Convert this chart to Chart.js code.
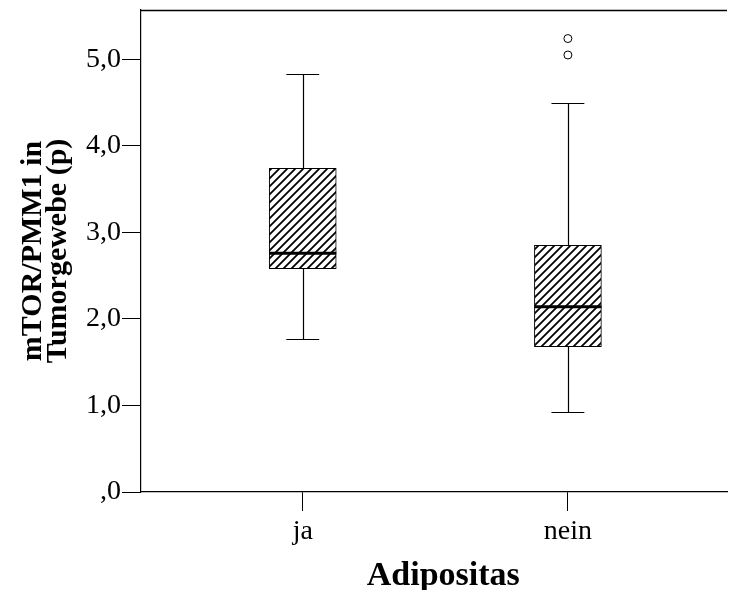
<!DOCTYPE html>
<html><head><meta charset="utf-8">
<script src="https://cdn.jsdelivr.net/npm/chart.js@4/dist/chart.umd.min.js"></script>
<style>html,body{margin:0;padding:0;background:#fff;overflow:hidden}#wrap{width:732px;height:590px}</style>
</head><body><div id="wrap"><canvas id="c" width="732" height="590"></canvas></div>
<script>
// ---- data ----
const categories = ['ja', 'nein'];
const whiskerLow = [1.77, 0.93];
const q1 = [2.58, 1.68];
const median = [2.76, 2.14];
const q3 = [3.74, 2.85];
const whiskerHigh = [4.83, 4.49];
const outlierCategory = ['nein', 'nein'];
const outlierValues = [5.05, 5.24];
const yTickValues = [0, 1, 2, 3, 4, 5];
const yTickLabels = [',0', '1,0', '2,0', '3,0', '4,0', '5,0'];
const xTitle = 'Adipositas';
const yTitle = ['mTOR/PMM1 in', 'Tumorgewebe (p)'];

// ---- styling ----
const FONT = 'Liberation Serif, Times New Roman, serif';
function hatchPattern() {
  const s = 8;
  const c = document.createElement('canvas');
  c.width = s; c.height = s;
  const g = c.getContext('2d');
  g.fillStyle = '#fff'; g.fillRect(0, 0, s, s);
  g.strokeStyle = '#000'; g.lineWidth = 1.8; g.lineCap = 'square';
  g.beginPath();
  g.moveTo(0, s); g.lineTo(s, 0);
  g.moveTo(-1, 1); g.lineTo(1, -1);
  g.moveTo(s - 1, s + 1); g.lineTo(s + 1, s - 1);
  g.stroke();
  return document.getElementById('c').getContext('2d').createPattern(c, 'repeat');
}

const boxPlotExtras = {
  id: 'boxPlotExtras',
  afterDatasetsDraw(chart) {
    const ctx = chart.ctx;
    const xs = chart.scales.x, ys = chart.scales.y;
    const bars = chart.getDatasetMeta(0).data;
    ctx.save();
    ctx.strokeStyle = '#000';
    categories.forEach((c, i) => {
      const x = Math.round(xs.getPixelForValue(i + 1)) + 0.5;
      const capL = xs.getPixelForValue(i + 1 - 0.062);
      const capR = xs.getPixelForValue(i + 1 + 0.062);
      const yHi = Math.round(ys.getPixelForValue(whiskerHigh[i])) + 0.5;
      const yLo = Math.round(ys.getPixelForValue(whiskerLow[i])) + 0.5;
      const yQ1 = ys.getPixelForValue(q1[i]);
      const yQ3 = ys.getPixelForValue(q3[i]);
      ctx.lineWidth = 1.2;
      ctx.beginPath();
      ctx.moveTo(x, yHi); ctx.lineTo(x, yQ3);
      ctx.moveTo(x, yQ1); ctx.lineTo(x, yLo);
      ctx.moveTo(capL, yHi); ctx.lineTo(capR, yHi);
      ctx.moveTo(capL, yLo); ctx.lineTo(capR, yLo);
      ctx.stroke();
      const b = bars[i];
      const yMed = ys.getPixelForValue(median[i]);
      ctx.lineWidth = 3;
      ctx.beginPath();
      ctx.moveTo(b.x - b.width / 2, yMed); ctx.lineTo(b.x + b.width / 2, yMed);
      ctx.stroke();
    });
    // top frame line
    const a = chart.chartArea;
    ctx.lineWidth = 1.5;
    ctx.beginPath();
    ctx.moveTo(a.left, a.top + 0.5); ctx.lineTo(a.right, a.top + 0.5);
    ctx.stroke();
    ctx.restore();
  },
  afterDraw(chart) {
    // x-axis title, centred on the full SPSS frame (which runs past the right edge)
    const ctx = chart.ctx;
    const xs = chart.scales.x;
    ctx.save();
    ctx.fillStyle = '#000';
    ctx.font = 'bold 34px ' + FONT;
    ctx.textAlign = 'center';
    ctx.textBaseline = 'alphabetic';
    ctx.fillText(xTitle, xs.getPixelForValue((categories.length + 1) / 2) + 8, 585);
    ctx.restore();
  }
};

function noPad(s) { s.paddingTop = 0; s.paddingBottom = 0; s.paddingLeft = 0; s.paddingRight = 0; }

new Chart(document.getElementById('c'), {
  type: 'bar',
  data: {
    datasets: [
      {
        type: 'bar',
        data: categories.map((c, i) => ({ x: i + 1, y: [q1[i], q3[i]] })),
        backgroundColor: hatchPattern(),
        borderColor: '#000',
        borderWidth: 1,
        borderSkipped: false,
        barThickness: 67
      },
      {
        type: 'line',
        showLine: false,
        data: outlierValues.map((v, i) => ({ x: categories.indexOf(outlierCategory[i]) + 1, y: v })),
        pointRadius: 4,
        pointBackgroundColor: '#fff',
        pointBorderColor: '#000',
        pointBorderWidth: 1
      }
    ]
  },
  plugins: [boxPlotExtras],
  options: {
    responsive: false,
    animation: false,
    events: [],
    layout: { padding: { top: 10, right: 0, left: 0, bottom: 0 } },
    plugins: { legend: { display: false }, tooltip: { enabled: false } },
    scales: {
      x: {
        type: 'linear', min: 0.39, max: 2.60, offset: false,
        afterBuildTicks: s => { s.ticks = categories.map((c, i) => ({ value: i + 1 })); },
        afterFit: s => { s.height = 98; noPad(s); },
        ticks: { callback: v => categories[v - 1], font: { family: FONT, size: 28 }, color: '#000', padding: 4, maxRotation: 0 },
        grid: { offset: false, drawOnChartArea: false, tickLength: 19, tickColor: '#000', color: '#000' },
        border: { color: '#000', width: 1.2 },
        title: { display: false }
      },
      y: {
        type: 'linear', min: 0, max: 5.57,
        afterBuildTicks: s => { s.ticks = yTickValues.map(v => ({ value: v })); },
        afterFit: s => { s.width = 141; noPad(s); },
        ticks: { callback: v => yTickLabels[yTickValues.indexOf(v)], font: { family: FONT, size: 28 }, color: '#000', padding: 1 },
        grid: { offset: false, drawOnChartArea: false, tickLength: 19, tickColor: '#000', color: '#000' },
        border: { color: '#000', width: 1.2 },
        title: { display: true, text: yTitle, color: '#000', font: { family: FONT, size: 30, weight: 'bold', lineHeight: 0.85 }, padding: { top: 20, bottom: 0 } }
      }
    }
  }
});
</script>
</body></html>
